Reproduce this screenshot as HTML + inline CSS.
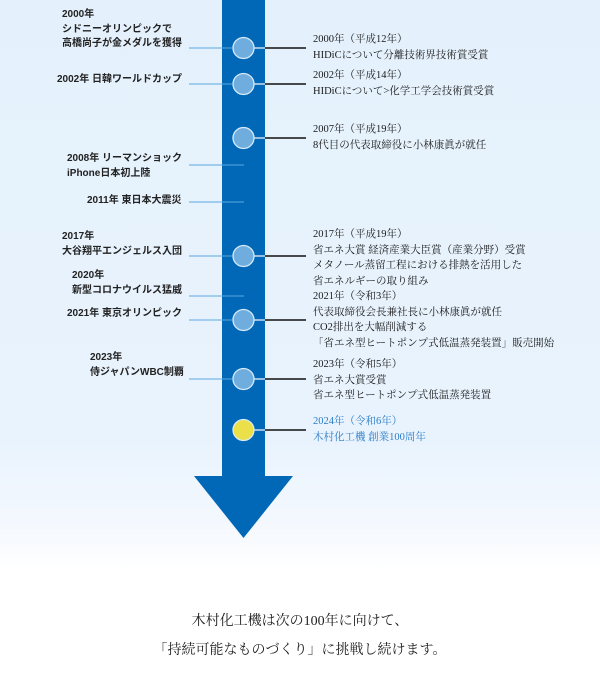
<!DOCTYPE html>
<html><head><meta charset="utf-8"><style>
body{margin:0;width:600px;height:700px;overflow:hidden;background:linear-gradient(#e4f1fc 0px,#e9f3fd 440px,#f3f8fe 520px,#fff 570px,#fff 700px);position:relative;font-family:"Liberation Sans","Noto Sans CJK JP",sans-serif}
.l{position:absolute;font-size:10px;line-height:14.5px;color:#222;white-space:nowrap;font-weight:bold}
.r{position:absolute;left:313px;font-family:"Liberation Serif","Noto Serif CJK SC",serif;font-size:10.5px;line-height:15.5px;color:#1a1a1a;white-space:nowrap}
.bt{position:absolute;left:0;width:600px;text-align:center;font-family:"Liberation Serif","Noto Serif CJK SC",serif;font-size:14px;color:#222}
</style></head><body>
<svg width="600" height="700" style="position:absolute;left:0;top:0">
<rect x="222" y="0" width="43" height="477" fill="#0068b7"/>
<polygon points="194,476 293,476 243.5,538" fill="#0068b7"/>
<g stroke="#5aa8e0" stroke-width="1">
<line x1="189" y1="48" x2="232" y2="48"/><line x1="189" y1="84" x2="232" y2="84"/>
<line x1="189" y1="165" x2="244" y2="165"/><line x1="189" y1="202" x2="244" y2="202"/>
<line x1="189" y1="256" x2="232" y2="256"/><line x1="189" y1="296" x2="244" y2="296"/>
<line x1="189" y1="320" x2="232" y2="320"/><line x1="189" y1="379" x2="232" y2="379"/>
</g>
<g stroke="#111" stroke-width="1.6">
<line x1="265" y1="48" x2="306" y2="48"/><line x1="265" y1="84" x2="306" y2="84"/>
<line x1="265" y1="138" x2="306" y2="138"/><line x1="265" y1="256" x2="306" y2="256"/>
<line x1="265" y1="320" x2="306" y2="320"/><line x1="265" y1="379" x2="306" y2="379"/>
<line x1="265" y1="430" x2="306" y2="430"/>
</g>
<g stroke="#fff" stroke-width="1.2">
<line x1="254" y1="48" x2="265" y2="48"/><line x1="254" y1="84" x2="265" y2="84"/><line x1="254" y1="138" x2="265" y2="138"/><line x1="254" y1="256" x2="265" y2="256"/><line x1="254" y1="320" x2="265" y2="320"/><line x1="254" y1="379" x2="265" y2="379"/><line x1="254" y1="430" x2="265" y2="430"/>
</g>
<g fill="#6fadde" stroke="#d8ebfa" stroke-width="1.3">
<circle cx="243.5" cy="48" r="10.5"/><circle cx="243.5" cy="84" r="10.5"/><circle cx="243.5" cy="138" r="10.5"/><circle cx="243.5" cy="256" r="10.5"/><circle cx="243.5" cy="320" r="10.5"/><circle cx="243.5" cy="379" r="10.5"/>
<circle cx="243.5" cy="430" r="10.5" fill="#ece04a"/>
</g>
</svg>
<div class="l" style="top:8px;left:62px">2000年<br>シドニーオリンピックで<br>高橋尚子が金メダルを獲得</div>
<div class="l" style="top:73px;left:57px">2002年 日韓ワールドカップ</div>
<div class="l" style="top:152px;left:67px">2008年 リーマンショック<br>iPhone日本初上陸</div>
<div class="l" style="top:194px;left:87px">2011年 東日本大震災</div>
<div class="l" style="top:230px;left:62px">2017年<br>大谷翔平エンジェルス入団</div>
<div class="l" style="top:269px;left:72px">2020年<br>新型コロナウイルス猛威</div>
<div class="l" style="top:307px;left:67px">2021年 東京オリンピック</div>
<div class="l" style="top:351px;left:90px">2023年<br>侍ジャパンWBC制覇</div>
<div class="r" style="top:32px">2000年（平成12年）<br>HIDiCについて分離技術界技術賞受賞</div>
<div class="r" style="top:68px">2002年（平成14年）<br>HIDiCについて&gt;化学工学会技術賞受賞</div>
<div class="r" style="top:122px">2007年（平成19年）<br>8代目の代表取締役に小林康眞が就任</div>
<div class="r" style="top:227px">2017年（平成19年）<br>省エネ大賞 経済産業大臣賞（産業分野）受賞<br>メタノール蒸留工程における排熱を活用した<br>省エネルギーの取り組み</div>
<div class="r" style="top:289px">2021年（令和3年）<br>代表取締役会長兼社長に小林康眞が就任<br>CO2排出を大幅削減する<br>「省エネ型ヒートポンプ式低温蒸発装置」販売開始</div>
<div class="r" style="top:357px">2023年（令和5年）<br>省エネ大賞受賞<br>省エネ型ヒートポンプ式低温蒸発装置</div>
<div class="r" style="top:414px;color:#2a7cc7">2024年（令和6年）<br>木村化工機 創業100周年</div>
<div class="bt" style="top:610px">木村化工機は次の100年に向けて、</div>
<div class="bt" style="top:639px">「持続可能なものづくり」に挑戦し続けます。</div>
</body></html>
